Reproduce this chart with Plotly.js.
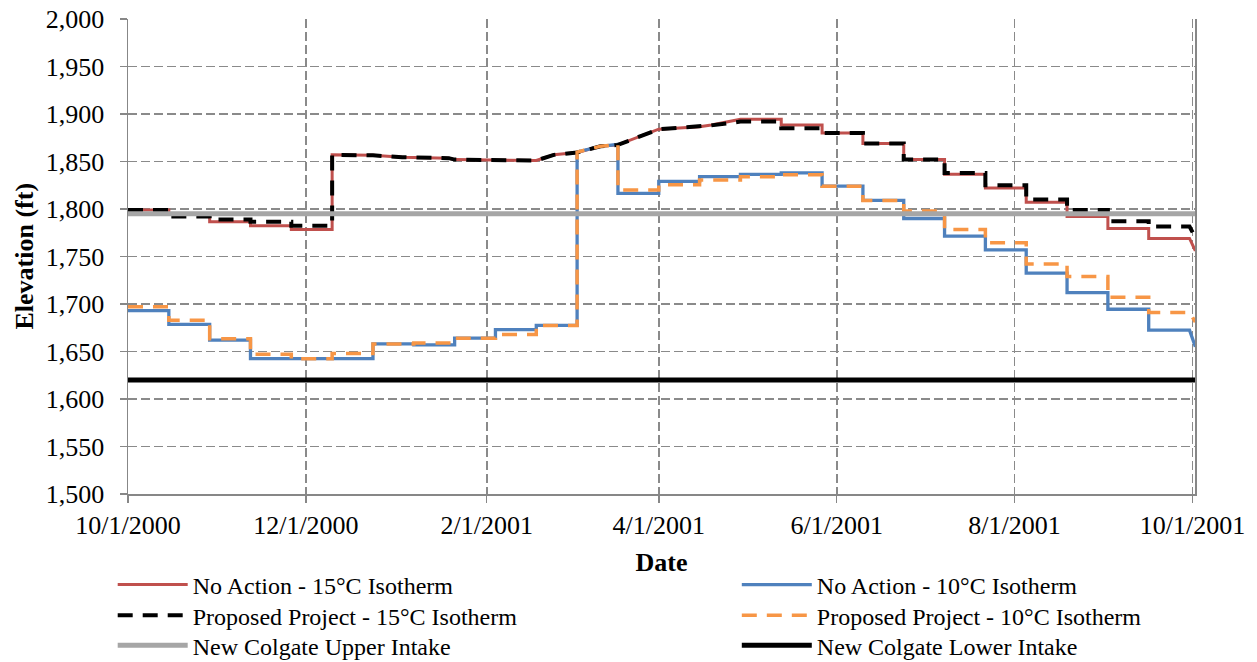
<!DOCTYPE html>
<html>
<head>
<meta charset="utf-8">
<script src="https://cdn.plot.ly/plotly-3.0.1.min.js"></script>
<style>html,body{margin:0;padding:0;background:#fff;}#chart{width:1257px;height:662px;}</style>
</head>
<body>
<div id="chart"></div>
<script>
// ---- Data ----
const seriesNames = [
  "No Action - 15°C Isotherm",
  "No Action - 10°C Isotherm",
  "Proposed Project - 15°C Isotherm",
  "Proposed Project - 10°C Isotherm",
  "New Colgate Upper Intake",
  "New Colgate Lower Intake"
];
const xAxisTitle = "Date";
const yAxisTitle = "Elevation (ft)";

// No Action - 15°C Isotherm (vertices)
const na15Dates = ["2000-10-01","2000-10-15","2000-10-15","2000-10-29","2000-10-29","2000-11-12","2000-11-12","2000-11-26","2000-11-26","2000-12-10","2000-12-10","2000-12-24","2001-01-03","2001-01-19","2001-01-21","2001-02-18","2001-02-24","2001-03-04","2001-03-12","2001-03-18","2001-04-01","2001-04-15","2001-04-19","2001-04-29","2001-05-13","2001-05-13","2001-05-27","2001-05-27","2001-06-10","2001-06-10","2001-06-24","2001-06-24","2001-07-08","2001-07-08","2001-07-22","2001-07-22","2001-08-05","2001-08-05","2001-08-19","2001-08-19","2001-09-02","2001-09-02","2001-09-16","2001-09-16","2001-09-30","2001-10-02"];
const na15Vals = [1799,1799,1795,1795,1786.5,1786.5,1782.5,1782.5,1778.5,1778.5,1857,1856.5,1854.5,1853.5,1852,1851,1857,1859.5,1866,1867.5,1884,1886.5,1888.5,1894.5,1894.5,1888.5,1888.5,1880,1880,1869,1869,1852,1852,1836.5,1836.5,1822,1822,1807,1807,1792,1792,1779.5,1779.5,1769,1769,1756];

// Proposed Project - 15°C Isotherm (vertices)
const pp15Dates = ["2000-10-01","2000-10-15","2000-10-15","2000-10-29","2000-10-29","2000-11-12","2000-11-12","2000-11-26","2000-11-26","2000-12-10","2000-12-10","2000-12-24","2001-01-03","2001-01-19","2001-01-21","2001-02-18","2001-02-24","2001-03-04","2001-03-12","2001-03-18","2001-04-01","2001-04-15","2001-04-19","2001-04-29","2001-05-13","2001-05-13","2001-05-27","2001-05-27","2001-06-10","2001-06-10","2001-06-24","2001-06-24","2001-07-08","2001-07-08","2001-07-22","2001-07-22","2001-08-05","2001-08-05","2001-08-19","2001-08-19","2001-09-02","2001-09-02","2001-09-16","2001-09-16","2001-09-30","2001-10-02"];
const pp15Vals = [1799,1799,1792,1792,1789,1789,1786.5,1786.5,1782.5,1782.5,1857,1856.5,1854.5,1853.5,1852,1851,1857,1859.5,1866,1867.5,1884,1886.5,1888,1892,1892,1885,1885,1880,1880,1869,1869,1852,1852,1838,1838,1825,1825,1810,1810,1799,1799,1787,1787,1781.5,1781.5,1770];

// No Action - 10°C Isotherm (vertices)
const na10Dates = ["2000-10-01","2000-10-15","2000-10-15","2000-10-29","2000-10-29","2000-11-12","2000-11-12","2000-12-24","2000-12-24","2001-01-07","2001-01-07","2001-01-21","2001-01-21","2001-02-04","2001-02-04","2001-02-18","2001-02-18","2001-03-04","2001-03-04","2001-03-12","2001-03-18","2001-03-18","2001-04-01","2001-04-01","2001-04-15","2001-04-15","2001-04-29","2001-04-29","2001-05-13","2001-05-13","2001-05-27","2001-05-27","2001-06-10","2001-06-10","2001-06-24","2001-06-24","2001-07-08","2001-07-08","2001-07-22","2001-07-22","2001-08-05","2001-08-05","2001-08-19","2001-08-19","2001-09-02","2001-09-02","2001-09-16","2001-09-16","2001-09-30","2001-10-02"];
const na10Vals = [1693,1693,1678.5,1678.5,1662,1662,1642.5,1642.5,1658,1658,1657,1657,1664,1664,1673,1673,1677.5,1677.5,1860,1866,1868,1816.5,1816.5,1829,1829,1834,1834,1836.5,1836.5,1838,1838,1824,1824,1809,1809,1790,1790,1771.5,1771.5,1757,1757,1732.5,1732.5,1712,1712,1694.5,1694.5,1672.5,1672.5,1655];

// Proposed Project - 10°C Isotherm (vertices)
const pp10Dates = ["2000-10-01","2000-10-15","2000-10-15","2000-10-29","2000-10-29","2000-11-12","2000-11-12","2000-11-26","2000-11-26","2000-12-10","2000-12-10","2000-12-24","2000-12-24","2001-01-07","2001-01-07","2001-01-21","2001-01-21","2001-02-04","2001-02-04","2001-02-18","2001-02-18","2001-03-04","2001-03-04","2001-03-12","2001-03-18","2001-03-18","2001-04-01","2001-04-01","2001-04-15","2001-04-15","2001-04-29","2001-04-29","2001-05-13","2001-05-13","2001-05-27","2001-05-27","2001-06-10","2001-06-10","2001-06-24","2001-06-24","2001-07-08","2001-07-08","2001-07-22","2001-07-22","2001-08-05","2001-08-05","2001-08-19","2001-08-19","2001-09-02","2001-09-02","2001-09-16","2001-09-16","2001-09-30","2001-10-02"];
const pp10Vals = [1697,1697,1683,1683,1663.5,1663.5,1647,1647,1642.5,1642.5,1648,1648,1658,1658,1659,1659,1664,1664,1668,1668,1677.5,1677.5,1860,1866,1868,1820,1820,1825.5,1825.5,1830.5,1830.5,1834,1834,1836,1836,1824,1824,1809,1809,1798,1798,1778.5,1778.5,1764.5,1764.5,1742,1742,1729,1729,1707,1707,1691,1691,1681];

// Intake elevations
const intakeDates = ["2000-10-01","2001-10-02"];
const upperIntake = [1795,1795];
const lowerIntake = [1620,1620];

// Axis ticks
const xTickVals = ["2000-10-01","2000-12-01","2001-02-01","2001-04-01","2001-06-01","2001-08-01","2001-10-01"];
const xTickText = ["10/1/2000","12/1/2000","2/1/2001","4/1/2001","6/1/2001","8/1/2001","10/1/2001"];
const yTickVals = [1500,1550,1600,1650,1700,1750,1800,1850,1900,1950,2000];

// ---- Chart ----
const FONT = "Liberation Serif, Times New Roman, serif";
const traces = [
  {x: na15Dates, y: na15Vals, name: seriesNames[0], mode: "lines", legend: "legend",  line: {color: "#C0504D", width: 3}},
  {x: na10Dates, y: na10Vals, name: seriesNames[1], mode: "lines", legend: "legend2", line: {color: "#4F81BD", width: 3.3}},
  {x: pp15Dates, y: pp15Vals, name: seriesNames[2], mode: "lines", legend: "legend3", line: {color: "#000000", width: 4, dash: "15px,10px"}},
  {x: pp10Dates, y: pp10Vals, name: seriesNames[3], mode: "lines", legend: "legend4", line: {color: "#F79646", width: 3.5, dash: "15px,10px"}},
  {x: intakeDates, y: upperIntake, name: seriesNames[4], mode: "lines", legend: "legend5", line: {color: "#A6A6A6", width: 5}},
  {x: intakeDates, y: lowerIntake, name: seriesNames[5], mode: "lines", legend: "legend6", line: {color: "#000000", width: 5}}
];

function legendAt(textLeftPx, rowCenterPx) {
  return {
    orientation: "v", xref: "container", yref: "container",
    x: (textLeftPx - 80) / 1257, y: 1 - (rowCenterPx - 23.5) / 662,
    xanchor: "left", yanchor: "top",
    font: {family: FONT, size: 24, color: "#000"},
    itemwidth: 70, bgcolor: "rgba(0,0,0,0)", borderwidth: 0
  };
}

const layout = {
  width: 1257, height: 662,
  margin: {l: 128, r: 62, t: 19, b: 168, autoexpand: false},
  paper_bgcolor: "#ffffff", plot_bgcolor: "#ffffff",
  font: {family: FONT, size: 26, color: "#000"},
  showlegend: true,
  legend:  legendAt(192.7, 586),
  legend2: legendAt(816.8, 586),
  legend3: legendAt(192.7, 616.7),
  legend4: legendAt(816.8, 616.7),
  legend5: legendAt(192.7, 646.7),
  legend6: legendAt(816.8, 646.7),
  xaxis: {
    type: "date", range: ["2000-10-01", "2001-10-01 21:00"],
    tickmode: "array", tickvals: xTickVals, ticktext: xTickText, tickangle: 0,
    showgrid: true, gridcolor: "#8a8a8a", gridwidth: 1.8, griddash: "9px,4px",
    showline: true, linecolor: "#878787", linewidth: 1.5,
    ticks: "outside", ticklen: 7, tickcolor: "#878787", tickwidth: 1.5,
    tickfont: {family: FONT, size: 26, color: "#000"},
    zeroline: false,
    title: {text: "<b>" + xAxisTitle + "</b>", font: {family: FONT, size: 26, color: "#000"}, standoff: 14}
  },
  yaxis: {
    range: [1500, 2000], tickmode: "array", tickvals: yTickVals, tickformat: ",d",
    ticklabelstandoff: 10,
    showgrid: true, gridcolor: "#8a8a8a", gridwidth: 1.8, griddash: "9px,4px",
    showline: true, linecolor: "#878787", linewidth: 1.5, mirror: true,
    ticks: "outside", ticklen: 7, tickcolor: "#878787", tickwidth: 1.5,
    tickfont: {family: FONT, size: 26, color: "#000"},
    zeroline: false
  },
  annotations: [{
    text: "<b>" + yAxisTitle + "</b>", textangle: -90, showarrow: false,
    xref: "paper", yref: "paper", x: (24 - 128) / 1067, y: 0.5,
    xanchor: "center", yanchor: "middle",
    font: {family: FONT, size: 26, color: "#000"}
  }]
};

Plotly.newPlot("chart", traces, layout, {displayModeBar: false, staticPlot: true});
</script>
</body>
</html>
